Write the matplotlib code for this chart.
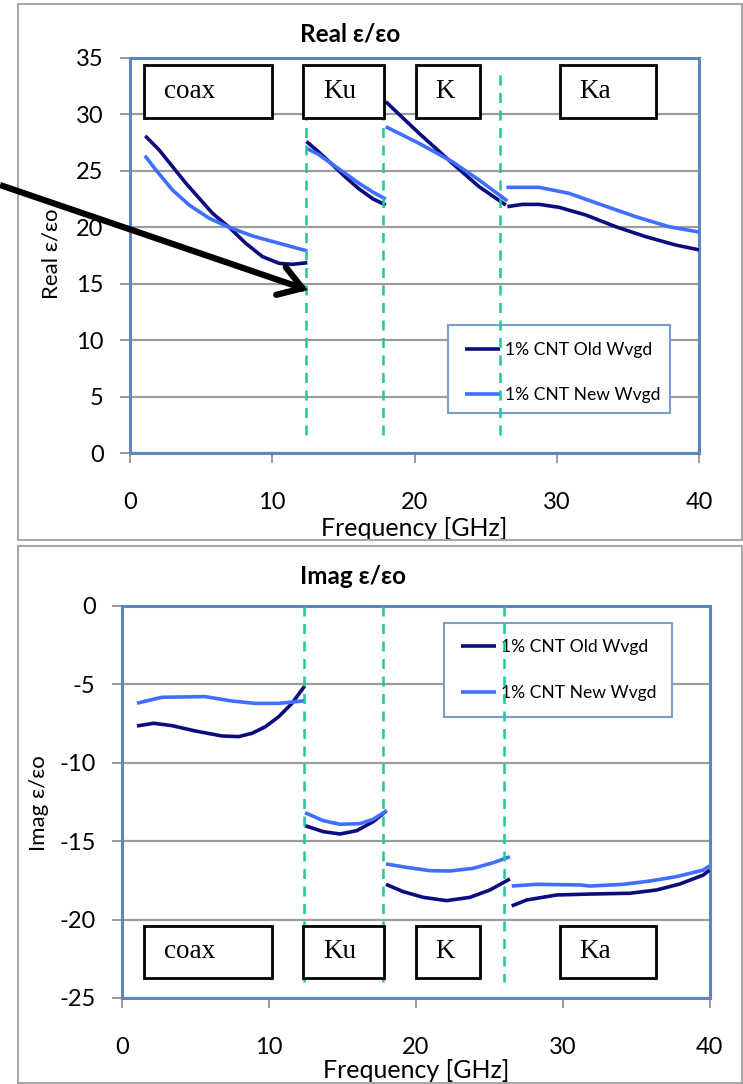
import numpy as np
import matplotlib
matplotlib.use("Agg")
import matplotlib.pyplot as plt
from matplotlib.patches import Rectangle
from matplotlib.lines import Line2D

# ---------------- data ----------------
series_labels = ["1% CNT Old Wvgd", "1% CNT New Wvgd"]
band_names = ["coax", "Ku", "K", "Ka"]
band_edges = [12.4, 17.8, 26.0]

# Real part (per band segment)
real_old_coax_x = [1.07, 2.05, 3.93, 5.8, 6.97, 8.14, 9.31, 10.49, 11.42, 12.47]
real_old_coax_y = [28.1, 26.85, 23.9, 21.24, 20.0, 18.58, 17.4, 16.8, 16.72, 16.86]
real_new_coax_x = [1.05, 1.82, 2.99, 4.16, 5.57, 6.97, 8.61, 10.49, 12.47]
real_new_coax_y = [26.35, 25.08, 23.3, 21.97, 20.8, 20.0, 19.23, 18.58, 17.9]
real_old_ku_x = [12.4, 13.2, 14.1, 15.1, 16.1, 17.1, 17.98]
real_old_ku_y = [27.6, 26.75, 25.7, 24.5, 23.4, 22.5, 21.97]
real_new_ku_x = [12.4, 13.2, 14.1, 15.1, 16.1, 17.1, 17.98]
real_new_ku_y = [27.0, 26.5, 25.7, 24.8, 23.9, 23.1, 22.5]
real_old_k_x = [17.98, 20.32, 22.66, 24.54, 26.42]
real_old_k_y = [31.13, 28.33, 25.67, 23.6, 21.97]
real_new_k_x = [17.98, 20.32, 22.66, 24.54, 26.53]
real_new_k_y = [28.91, 27.44, 25.81, 24.19, 22.33]
real_old_ka_x = [26.53, 27.58, 28.76, 30.16, 32.04, 34.15, 36.25, 38.36, 40.0]
real_old_ka_y = [21.83, 22.03, 22.03, 21.77, 21.09, 20.05, 19.17, 18.43, 18.0]
real_new_ka_x = [26.46, 28.76, 30.86, 33.2, 35.55, 37.89, 40.0]
real_new_ka_y = [23.54, 23.54, 23.01, 21.97, 20.94, 20.05, 19.58]

# Imaginary part
imag_old_coax_x = [1.02, 2.16, 3.4, 4.99, 6.81, 7.94, 8.85, 9.76, 10.67, 11.57, 12.44]
imag_old_coax_y = [-7.65, -7.48, -7.63, -7.97, -8.29, -8.33, -8.12, -7.7, -7.06, -6.21, -5.1]
imag_new_coax_x = [1.02, 2.72, 5.67, 7.49, 9.07, 10.67, 12.48]
imag_new_coax_y = [-6.2, -5.82, -5.78, -6.06, -6.21, -6.21, -6.04]
imag_old_ku_x = [12.46, 13.7, 14.84, 15.98, 17.11, 18.02]
imag_old_ku_y = [-14.01, -14.39, -14.54, -14.33, -13.75, -13.05]
imag_new_ku_x = [12.46, 13.7, 14.84, 16.2, 17.11, 18.02]
imag_new_ku_y = [-13.18, -13.69, -13.92, -13.88, -13.6, -13.05]
imag_old_k_x = [17.97, 19.15, 20.51, 22.1, 23.69, 25.05, 26.41]
imag_old_k_y = [-17.75, -18.22, -18.58, -18.79, -18.58, -18.11, -17.41]
imag_new_k_x = [17.97, 19.38, 20.97, 22.33, 23.91, 25.28, 26.41]
imag_new_k_y = [-16.45, -16.67, -16.88, -16.9, -16.73, -16.37, -15.99]
imag_old_ka_x = [26.53, 27.55, 29.59, 31.86, 34.58, 36.4, 37.98, 39.57, 40.0]
imag_old_ka_y = [-19.13, -18.75, -18.43, -18.37, -18.32, -18.11, -17.73, -17.16, -16.85]
imag_new_ka_x = [26.53, 28.23, 31.18, 31.86, 34.13, 35.94, 37.76, 39.57, 40.0]
imag_new_ka_y = [-17.86, -17.75, -17.79, -17.86, -17.75, -17.54, -17.26, -16.84, -16.58]

x_ticks = [0, 10, 20, 30, 40]
real_y_ticks = [0, 5, 10, 15, 20, 25, 30, 35]
imag_y_ticks = [0, -5, -10, -15, -20, -25]

# ---------------- style ----------------
plt.rcParams['font.family'] = ['Lato', 'DejaVu Sans']
plt.rcParams['axes.unicode_minus'] = False
C_OLD = '#0C0C7E'
C_NEW = '#3E6FFF'
C_DASH = '#1FC79A'
C_FRAME = '#5B86BF'
C_GRID = '#9C9C9C'

W, H = 743, 1084
fig = plt.figure(figsize=(W / 100, H / 100), dpi=100)

def fx(px):
    return px / W

def fy(py):
    return 1 - py / H

# outer chart borders
fig.add_artist(Rectangle((fx(18), fy(540)), fx(724), fy(4) - fy(540),
                         transform=fig.transFigure, fill=False, ec='#A8A8A8', lw=1.5))
fig.add_artist(Rectangle((fx(18), fy(1083)), fx(724), fy(546) - fy(1083),
                         transform=fig.transFigure, fill=False, ec='#A8A8A8', lw=1.5))

ax1 = fig.add_axes([fx(130), fy(453), fx(699) - fx(130), fy(58) - fy(453)])
ax2 = fig.add_axes([fx(122), fy(998), fx(709.5) - fx(122), fy(606) - fy(998)])

def style_axes(ax, yticks, ylim, labelpad):
    ax.set_xlim(0, 40)
    ax.set_ylim(*ylim)
    ax.set_xticks(x_ticks)
    ax.set_yticks(yticks)
    ax.tick_params(axis='both', direction='out', length=7, width=1.2, color='#888888',
                   labelsize=17)
    ax.tick_params(axis='x', pad=21)
    ax.tick_params(axis='y', pad=12)
    ax.yaxis.grid(True, color=C_GRID, lw=1.6)
    ax.xaxis.grid(False)
    ax.set_axisbelow(True)
    for s in ax.spines.values():
        s.set_color(C_FRAME)
        s.set_linewidth(2.2)
    ax.set_xlabel('Frequency [GHz]', fontsize=18, labelpad=labelpad)

style_axes(ax1, real_y_ticks, (0, 35), 3)
style_axes(ax2, imag_y_ticks, (-25, 0), 1)

# titles (centred on the chart area, not the plot area)
fig.text(fx(350), fy(34), 'Real ε/εo', ha='center', va='center', fontsize=17.5,
         fontweight='bold')
fig.text(fx(353), fy(576), 'Imag ε/εo', ha='center', va='center', fontsize=17.5,
         fontweight='bold')

# y labels (placed by pixel centre)
fig.text(fx(51), fy(254), 'Real ε/εo', rotation=90, ha='center', va='center', fontsize=16)
fig.text(fx(39), fy(803), 'Imag ε/εo', rotation=90, ha='center', va='center', fontsize=16)

# data lines
real_old = [(real_old_coax_x, real_old_coax_y), (real_old_ku_x, real_old_ku_y),
            (real_old_k_x, real_old_k_y), (real_old_ka_x, real_old_ka_y)]
real_new = [(real_new_coax_x, real_new_coax_y), (real_new_ku_x, real_new_ku_y),
            (real_new_k_x, real_new_k_y), (real_new_ka_x, real_new_ka_y)]
imag_old = [(imag_old_coax_x, imag_old_coax_y), (imag_old_ku_x, imag_old_ku_y),
            (imag_old_k_x, imag_old_k_y), (imag_old_ka_x, imag_old_ka_y)]
imag_new = [(imag_new_coax_x, imag_new_coax_y), (imag_new_ku_x, imag_new_ku_y),
            (imag_new_k_x, imag_new_k_y), (imag_new_ka_x, imag_new_ka_y)]

def draw_series(ax, old, new):
    handles = []
    for color, label, segs in ((C_OLD, series_labels[0], old), (C_NEW, series_labels[1], new)):
        for i, (x, y) in enumerate(segs):
            l, = ax.plot(x, y, color=color, lw=2.6, solid_capstyle='butt',
                         solid_joinstyle='round', zorder=3)
            if i == 0:
                l.set_label(label)
                handles.append(l)
    return handles

h1 = draw_series(ax1, real_old, real_new)
h2 = draw_series(ax2, imag_old, imag_new)

# legends (content only; frame drawn as a separate box)
leg_kw = dict(loc='upper left', fontsize=12.6, frameon=False,
              labelspacing=1.7, handlelength=2.0, handletextpad=0.3,
              borderpad=0.95, borderaxespad=0)
leg1 = ax1.legend(handles=h1, bbox_to_anchor=(0.559, 0.324), **leg_kw)
leg2 = ax2.legend(handles=h2, bbox_to_anchor=(0.548, 0.958), **leg_kw)
for lg in (leg1, leg2):
    lg.set_zorder(5)

# band dividers
for i, b in enumerate(band_edges):
    top = 33.9 if i == 2 else 29.65
    ax1.plot([b, b], [1.6, top], ls=(0, (4, 3)), color=C_DASH, lw=1.8, zorder=6)
    ax2.plot([b, b], [0, -24.0], ls=(0, (4, 3)), color=C_DASH, lw=1.8, zorder=6)

fig.canvas.draw()

def px_rect(ax, x0, x1, y0, y1, **kw):
    inv = ax.transData.inverted()
    (dx0, dy0) = inv.transform((x0, H - y1))
    (dx1, dy1) = inv.transform((x1, H - y0))
    ax.add_patch(Rectangle((dx0, dy0), dx1 - dx0, dy1 - dy0, clip_on=False, **kw))

# legend frames
px_rect(ax1, 448, 670, 325, 413, fc='white', ec='#7A9CCF', lw=1.5, zorder=4.9)
px_rect(ax2, 444, 672, 622.6, 717, fc='white', ec='#7A9CCF', lw=1.5, zorder=4.9)

# band label boxes (pixel layout shared by both panels)
box_px = [(144, 272), (303, 384), (415.6, 480), (559.7, 656)]

def add_boxes(ax, y0_px, y1_px):
    inv = ax.transData.inverted()
    for name, (xa, xb) in zip(band_names, box_px):
        px_rect(ax, xa, xb, y0_px, y1_px, fc='white', ec='black', lw=2, zorder=7)
        tx, ty = inv.transform((xa + 20, H - (y0_px + y1_px) / 2))
        ax.text(tx, ty, name, family='Liberation Serif', fontsize=19.5,
                ha='left', va='center', zorder=8)

add_boxes(ax1, 65.5, 118)
add_boxes(ax2, 926, 978)

# arrow in upper panel (shaft + open V head, built in display space)
tip = ax1.transData.transform((12.12, 14.6))
tail = np.array([0.0, H - 185.0])
u = (tail - tip) / np.hypot(*(tail - tip))
arm_len = 27.0
arms = []
for ang in (np.radians(33), np.radians(-33)):
    rot = np.array([[np.cos(ang), -np.sin(ang)], [np.sin(ang), np.cos(ang)]])
    arms.append(tip + arm_len * rot @ u)
to_fig = fig.transFigure.inverted()
shaft_pts = to_fig.transform(np.vstack([tail, tip - 2 * u]))
head_pts = to_fig.transform(np.vstack([arms[0], tip, arms[1]]))
fig.add_artist(Line2D(shaft_pts[:, 0], shaft_pts[:, 1], transform=fig.transFigure,
                      color='black', lw=4.5, solid_capstyle='butt', zorder=9))
fig.add_artist(Line2D(head_pts[:, 0], head_pts[:, 1], transform=fig.transFigure,
                      color='black', lw=4.5, solid_capstyle='round',
                      solid_joinstyle='miter', zorder=9))

fig.savefig('out.png', dpi=100)
